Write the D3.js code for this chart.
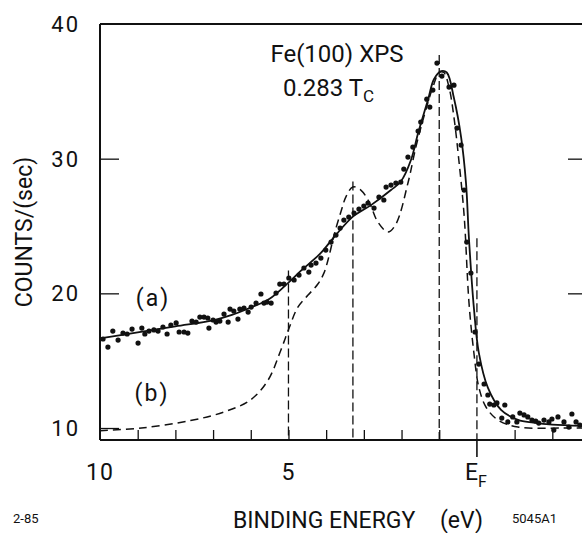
<!DOCTYPE html>
<html>
<head>
<meta charset="utf-8">
<script src="https://cdn.jsdelivr.net/npm/d3@7"></script>
<style>
  html, body { margin: 0; padding: 0; background: #fff; }
  svg { display: block; }
  text { font-family: Roboto, "Liberation Sans", sans-serif; fill: #111; }
</style>
</head>
<body>
<svg id="chart" width="582" height="533"></svg>
<script>
// ---- Data (binding energy in eV, counts/sec) ----
const yTicks = [10, 20, 30, 40];
const xTickLabels = [{ e: 10, label: "10" }, { e: 5, label: "5" }];
const xMinorTicks = [9, 8, 7, 6, 5, 4, 3, 2, 1, -1, -2];

// Measured data points (a)
const pointE = [9.92, 9.79, 9.66, 9.52, 9.39, 9.28, 9.15, 8.99, 8.89, 8.81, 8.70, 8.57, 8.46, 8.33, 8.22, 8.12, 7.98, 7.90, 7.77, 7.67,
  7.56, 7.45, 7.35, 7.24, 7.14, 7.11, 7.00, 6.92, 6.82, 6.71, 6.60, 6.55, 6.45, 6.34, 6.29, 6.18, 6.07, 5.99, 5.86, 5.73,
  5.65, 5.57, 5.46, 5.33, 5.23, 5.12, 4.99, 4.85, 4.72, 4.59, 4.46, 4.40, 4.27, 4.14, 4.01, 3.87, 3.74, 3.63, 3.53, 3.40,
  3.26, 3.13, 3.00, 2.89, 2.73, 2.60, 2.47, 2.41, 2.28, 2.15, 2.02, 1.94, 1.83, 1.70, 1.56, 1.49, 1.33, 1.25, 1.17, 1.06,
  0.93, 0.74, 0.61, 0.53, 0.42, 0.34, 0.27, 0.16, 0.05, -0.05, -0.19, -0.29, -0.34, -0.45, -0.53, -0.66, -0.74, -0.82, -0.95, -1.06,
  -1.14, -1.25, -1.35, -1.46, -1.56, -1.64, -1.78, -1.91, -1.99, -2.04, -2.15, -2.31, -2.44, -2.52, -2.63, -2.73];
const pointC = [16.61, 16.01, 17.20, 16.53, 17.05, 16.98, 17.35, 16.31, 17.42, 16.98, 17.20, 17.28, 17.20, 17.50, 16.98, 17.65, 17.80, 17.13, 17.13, 17.05,
  17.94, 17.87, 18.24, 18.24, 18.17, 17.42, 18.02, 17.87, 17.94, 18.46, 17.87, 18.83, 18.69, 18.09, 18.83, 18.91, 18.61, 18.98, 19.28, 19.95,
  19.28, 19.35, 19.28, 20.02, 20.69, 20.69, 21.14, 20.99, 21.36, 21.88, 21.58, 22.10, 22.25, 22.62, 23.21, 23.81, 24.33, 24.85, 25.44, 25.66,
  25.96, 26.26, 26.48, 26.70, 26.33, 27.15, 26.93, 27.89, 28.04, 28.19, 28.26, 29.23, 30.12, 30.86, 32.05, 32.72, 34.42, 33.83, 35.09, 37.10,
  36.13, 35.32, 35.46, 32.27, 31.01, 27.67, 23.81, 21.51, 17.13, 14.75, 13.27, 12.45, 11.78, 11.71, 11.86, 10.74, 11.71, 10.45, 10.82, 10.45,
  11.11, 10.97, 10.82, 10.59, 10.52, 10.37, 10.59, 10.45, 10.67, 9.85, 10.82, 10.45, 10.07, 11.04, 10.45, 10.22];

// Fitted curve (a), solid
const fitE = [10.0, 9.0, 8.0, 7.0, 6.5, 6.0, 5.5, 5.0, 4.66, 4.14, 3.79, 3.29, 2.81, 2.28, 2.02, 1.75, 1.56, 1.30, 1.14, 0.95,
  0.80, 0.61, 0.42, 0.29, 0.21, 0.08, -0.05, -0.29, -0.64, -1.09, -1.5, -2.0, -3.0];
const fitC = [16.65, 17.1, 17.55, 18.0, 18.4, 18.95, 19.6, 20.8, 21.7, 23.0, 24.18, 25.7, 26.55, 27.67, 28.3, 29.9, 31.9, 34.35, 35.9, 36.5,
  36.4, 34.5, 31.6, 28.2, 24.0, 18.9, 15.6, 13.0, 11.35, 10.6, 10.4, 10.25, 10.15];

// Calculated spectrum (b), dashed
const calcE = [10.0, 8.9, 7.6, 6.7, 6.0, 5.54, 5.2, 5.0, 4.75, 4.48, 4.22, 4.06, 3.93, 3.79, 3.61, 3.47, 3.29, 3.08, 2.86, 2.63,
  2.36, 2.15, 1.83, 1.62, 1.41, 1.17, 1.0, 0.88, 0.74, 0.61, 0.48, 0.34, 0.21, 0.08, -0.05, -0.24, -0.56, -1.09, -2.31, -3.0];
const calcC = [9.8, 10.0, 10.55, 11.2, 12.1, 13.56, 15.8, 17.3, 18.98, 19.87, 20.69, 21.5, 22.7, 24.33, 26.04, 27.2, 27.9, 27.67, 26.78, 25.3,
  24.55, 25.14, 28.19, 30.86, 33.09, 35.3, 36.4, 36.4, 35.3, 33.09, 29.9, 25.8, 19.28, 15.57, 13.04, 11.56, 10.59, 10.07, 10.0, 10.0];

// Vertical dashed marker lines (energy, top count)
const markerE = [5.0, 3.29, 1.0, 0.0];
const markerTop = [21.7, 28.3, 37.7, 24.1];

// ---- Drawing ----
const svg = d3.select("#chart");
const x = d3.scaleLinear().domain([10, -3]).range([100, 590]);
const y = d3.scaleLinear().domain([9.11, 40]).range([440, 24]);
const yBase = y.domain()[0];

const black = "#111";

// frame
const g = svg.append("g");
g.append("line").attr("x1", x(10)).attr("x2", x(10)).attr("y1", y(40)).attr("y2", y(yBase))
  .attr("stroke", black).attr("stroke-width", 2);
g.append("line").attr("x1", x(10)).attr("x2", x(-3)).attr("y1", y(40)).attr("y2", y(40))
  .attr("stroke", black).attr("stroke-width", 2);
g.append("line").attr("x1", x(10)).attr("x2", x(-3)).attr("y1", y(yBase)).attr("y2", y(yBase))
  .attr("stroke", black).attr("stroke-width", 2);
g.append("line").attr("x1", x(-3)).attr("x2", x(-3)).attr("y1", y(40)).attr("y2", y(yBase))
  .attr("stroke", black).attr("stroke-width", 2);

// left y axis (ticks inward) via d3 axis
const yAxisL = d3.axisRight(y).tickValues(yTicks.filter(v => v < 40)).tickSize(19).tickFormat("");
const gyl = svg.append("g").attr("transform", `translate(${x(10)},0)`).call(yAxisL);
gyl.select(".domain").remove();
gyl.selectAll(".tick line").attr("stroke", black).attr("stroke-width", 1.3);

const yAxisR = d3.axisLeft(y).tickValues([20, 30]).tickSize(22).tickFormat("");
const gyr = svg.append("g").attr("transform", `translate(${x(-3)},0)`).call(yAxisR);
gyr.select(".domain").remove();
gyr.selectAll(".tick line").attr("stroke", black).attr("stroke-width", 1.3);

// y tick labels
svg.append("g").selectAll("text").data(yTicks).join("text")
  .attr("x", 80).attr("y", d => y(d)).attr("dy", "0.36em")
  .attr("text-anchor", "end").attr("font-size", 22).attr("letter-spacing", 2)
  .text(d => d);

// bottom x ticks (inward)
const xAxis = d3.axisTop(x).tickValues(xMinorTicks).tickSize(10).tickFormat("");
const gx = svg.append("g").attr("transform", `translate(0,${y(yBase)})`).call(xAxis);
gx.select(".domain").remove();
gx.selectAll(".tick line").attr("stroke", black).attr("stroke-width", 1.3);
// E_F tick (outward)
svg.append("line").attr("x1", x(0)).attr("x2", x(0)).attr("y1", y(yBase)).attr("y2", y(yBase) + 17)
  .attr("stroke", black).attr("stroke-width", 1.6);

// x tick labels
svg.append("g").selectAll("text").data(xTickLabels).join("text")
  .attr("x", d => x(d.e)).attr("y", 480).attr("text-anchor", "middle")
  .attr("font-size", 23).attr("letter-spacing", 1)
  .text(d => d.label);
const ef = svg.append("text").attr("x", x(0) - 1).attr("y", 480).attr("text-anchor", "middle").attr("font-size", 23);
ef.append("tspan").text("E");
ef.append("tspan").attr("font-size", 16).attr("dy", 7).text("F");

// vertical dashed marker lines
svg.append("g").selectAll("line").data(markerE).join("line")
  .attr("x1", (d) => x(d)).attr("x2", (d) => x(d))
  .attr("y1", (d, i) => y(markerTop[i])).attr("y2", y(yBase))
  .attr("stroke", black).attr("stroke-width", 1.3).attr("stroke-dasharray", "9,4");

// dashed calculated curve (b)
const calc = calcE.map((e, i) => [e, calcC[i]]);
const line = d3.line().x(d => x(d[0])).y(d => y(d[1])).curve(d3.curveCatmullRom.alpha(0.5));
svg.append("path").datum(calc).attr("d", line)
  .attr("fill", "none").attr("stroke", black).attr("stroke-width", 1.5).attr("stroke-dasharray", "8,5");

// solid fit (a)
const fit = fitE.map((e, i) => [e, fitC[i]]);
svg.append("path").datum(fit).attr("d", line)
  .attr("fill", "none").attr("stroke", black).attr("stroke-width", 1.8);

// points
svg.append("g").selectAll("circle").data(pointE.map((e, i) => [e, pointC[i]])).join("circle")
  .attr("cx", d => x(d[0])).attr("cy", d => y(d[1])).attr("r", 2.6).attr("fill", black);

// labels (a), (b)
svg.append("text").attr("x", 153).attr("y", 306).attr("text-anchor", "middle")
  .attr("font-size", 23).attr("letter-spacing", 2).text("(a)");
svg.append("text").attr("x", 152).attr("y", 401).attr("text-anchor", "middle")
  .attr("font-size", 23).attr("letter-spacing", 2).text("(b)");

// title
svg.append("text").attr("x", 337).attr("y", 62).attr("text-anchor", "middle")
  .attr("font-size", 24).text("Fe(100) XPS");
const t2 = svg.append("text").attr("x", 283).attr("y", 96).attr("font-size", 24);
t2.append("tspan").text("0.283 T");
t2.append("tspan").attr("font-size", 17).attr("dy", 6).text("C");

// axis titles
svg.append("text").attr("transform", "translate(32,232) rotate(-90)")
  .attr("text-anchor", "middle").attr("font-size", 23).text("COUNTS/(sec)");
svg.append("text").attr("x", 233).attr("y", 528).attr("font-size", 23).text("BINDING ENERGY");
svg.append("text").attr("x", 440).attr("y", 528).attr("font-size", 23).text("(eV)");

svg.append("text").attr("x", 13).attr("y", 523).attr("font-size", 13).text("2-85");
svg.append("text").attr("x", 512).attr("y", 523).attr("font-size", 13).text("5045A1");
</script>
</body>
</html>
